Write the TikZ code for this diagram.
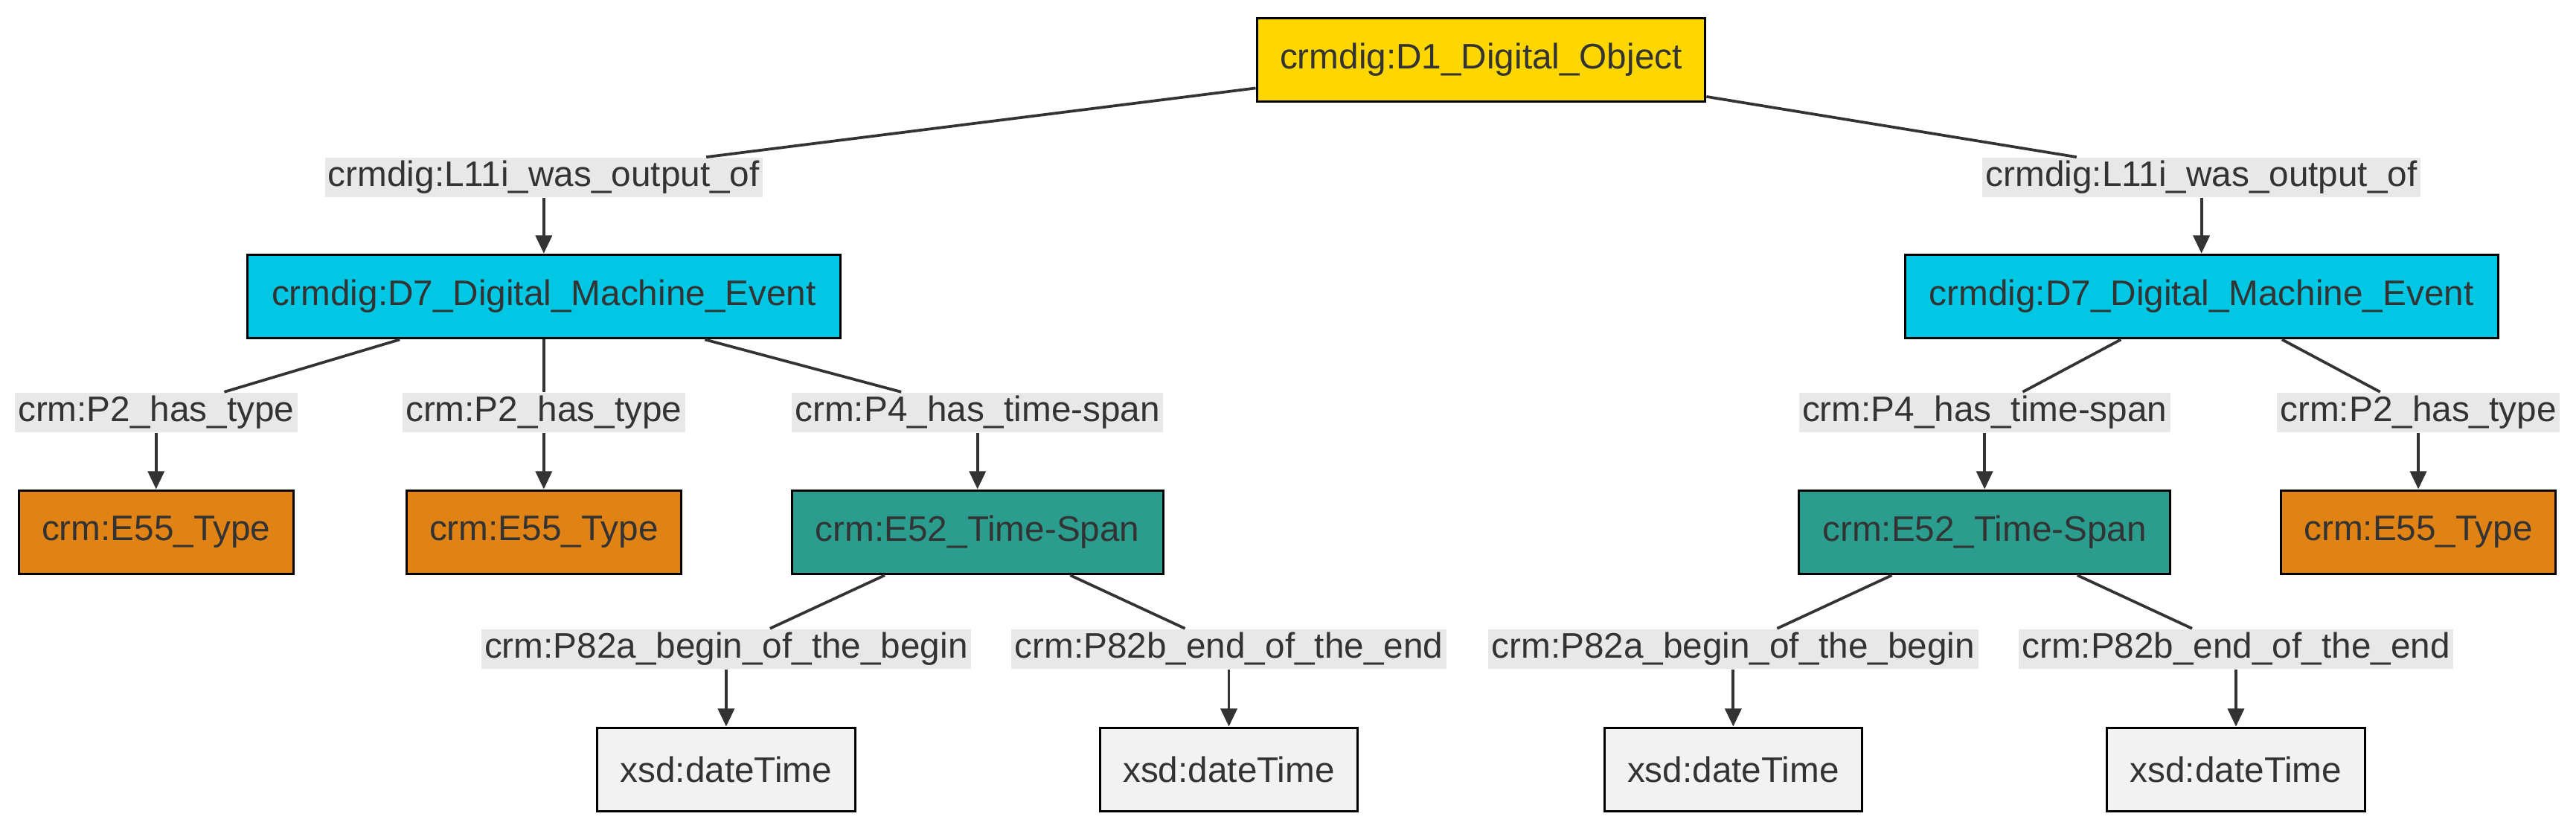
\documentclass[tikz,border=0pt]{standalone}
\usepackage{xcolor}
\usepackage{fontspec}
\setmainfont{Liberation Sans}
\usepackage{tikz}
\usetikzlibrary{arrows.meta}
\definecolor{ink}{HTML}{333333}
\definecolor{objyellow}{HTML}{FFD700}
\definecolor{eventcyan}{HTML}{00C7E3}
\definecolor{typeorange}{HTML}{E08214}
\definecolor{spanteal}{HTML}{2A9D8F}
\definecolor{litgray}{HTML}{F2F2F2}
\definecolor{lblgray}{HTML}{E8E8E8}

\begin{document}
\begin{tikzpicture}[x=0.5pt,y=-0.5pt,
  box/.style={draw=black,line width=0.7pt,text=ink,inner sep=0pt,
    minimum height=25.5pt,font=\fontsize{10.8}{13}\selectfont},
  lbl/.style={fill=lblgray,text=ink,inner xsep=1pt,inner ysep=0pt,
    minimum height=12pt,font=\fontsize{10.8}{13}\selectfont},
  link/.style={draw=ink,line width=0.85pt},
  arr/.style={link,-{Triangle[length=5.5pt,width=5pt]}}]
\fill[white] (0,0) rectangle (1568,505.5);
\useasboundingbox (0,0) rectangle (1568,505.5);
%D1
\node[box,fill=objyellow,minimum width=136.5pt] (obj) at (901.5,36.5) {crmdig:D1\_Digital\_Object};
%D7
\node[lbl] (outL) at (331,108) {crmdig:L11i\_was\_output\_of};
\node[lbl] (outR) at (1340,108) {crmdig:L11i\_was\_output\_of};
\node[box,fill=eventcyan,minimum width=180.5pt] (evL) at (331,180.5) {crmdig:D7\_Digital\_Machine\_Event};
\node[box,fill=eventcyan,minimum width=180.5pt] (evR) at (1340,180.5) {crmdig:D7\_Digital\_Machine\_Event};
%E55, E52
\node[lbl] (typeA) at (95,251) {crm:P2\_has\_type};
\node[lbl] (typeB) at (331,251) {crm:P2\_has\_type};
\node[lbl] (spanL) at (595,251) {crm:P4\_has\_time-span};
\node[lbl] (spanR) at (1208,251) {crm:P4\_has\_time-span};
\node[lbl] (typeC) at (1472,251) {crm:P2\_has\_type};
\node[box,fill=typeorange,minimum width=83.5pt] (tyA) at (95,324) {crm:E55\_Type};
\node[box,fill=typeorange,minimum width=83.5pt] (tyB) at (331,324) {crm:E55\_Type};
\node[box,fill=spanteal,minimum width=113pt] (tsL) at (595,324) {crm:E52\_Time-Span};
\node[box,fill=spanteal,minimum width=113pt] (tsR) at (1208,324) {crm:E52\_Time-Span};
\node[box,fill=typeorange,minimum width=83.5pt] (tyC) at (1472,324) {crm:E55\_Type};
%xsd
\node[lbl] (beginL) at (442,395) {crm:P82a\_begin\_of\_the\_begin};
\node[lbl] (endL) at (748,395) {crm:P82b\_end\_of\_the\_end};
\node[lbl] (beginR) at (1055,395) {crm:P82a\_begin\_of\_the\_begin};
\node[lbl] (endR) at (1361,395) {crm:P82b\_end\_of\_the\_end};
\node[box,fill=litgray,minimum width=78.5pt] (dtA) at (442,468.5) {xsd:dateTime};
\node[box,fill=litgray,minimum width=78.5pt] (dtB) at (748,468.5) {xsd:dateTime};
\node[box,fill=litgray,minimum width=78.5pt] (dtC) at (1055,468.5) {xsd:dateTime};
\node[box,fill=litgray,minimum width=78.5pt] (dtD) at (1361,468.5) {xsd:dateTime};
%连线
\draw[link] (obj) -- (outL);
\draw[arr] (outL) -- (evL);
\draw[link] (obj) -- (outR);
\draw[arr] (outR) -- (evR);
\draw[link] (evL) -- (typeA);
\draw[arr] (typeA) -- (tyA);
\draw[link] (evL) -- (typeB);
\draw[arr] (typeB) -- (tyB);
\draw[link] (evL) -- (spanL);
\draw[arr] (spanL) -- (tsL);
\draw[link] (evR) -- (spanR);
\draw[arr] (spanR) -- (tsR);
\draw[link] (evR) -- (typeC);
\draw[arr] (typeC) -- (tyC);
\draw[link] (tsL) -- (beginL);
\draw[arr] (beginL) -- (dtA);
\draw[link] (tsL) -- (endL);
\draw[arr] (endL) -- (dtB);
\draw[link] (tsR) -- (beginR);
\draw[arr] (beginR) -- (dtC);
\draw[link] (tsR) -- (endR);
\draw[arr] (endR) -- (dtD);
\end{tikzpicture}
\end{document}
